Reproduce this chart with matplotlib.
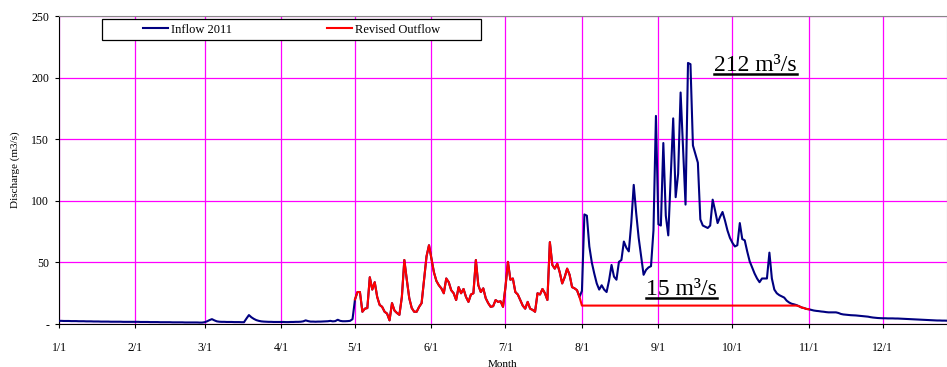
import numpy as np
import matplotlib
matplotlib.use("Agg")
import matplotlib.pyplot as plt
from matplotlib.patches import Rectangle

plt.rcParams['font.family'] = ['Liberation Serif', 'DejaVu Serif']

# daily inflow (m3/s), one list per month
jan = [2.6, 2.6, 2.5, 2.5, 2.5, 2.4, 2.4, 2.4, 2.3, 2.3, 2.3, 2.2, 2.2, 2.2, 2.1, 2.1,
       2.1, 2.0, 2.0, 2.0, 2.0, 1.9, 1.9, 1.9, 1.9, 1.9, 1.8, 1.8, 1.8, 1.8, 1.8]
feb = [1.8, 1.8, 1.7, 1.7, 1.7, 1.7, 1.6, 1.6, 1.6, 1.6, 1.5, 1.5, 1.5, 1.5, 1.5, 1.4,
       1.4, 1.4, 1.4, 1.4, 1.3, 1.3, 1.3, 1.3, 1.3, 1.3, 1.2, 1.2]
mar = [1.5, 2.2, 3.2, 4.0, 3.0, 2.2, 1.9, 1.8, 1.8, 1.7, 1.7, 1.7, 1.6, 1.6, 1.6, 1.5,
       1.5, 4.5, 7.3, 5.5, 4.2, 3.2, 2.6, 2.2, 2.0, 1.9, 1.8, 1.8, 1.7, 1.7, 1.7]
apr = [1.7, 1.7, 1.6, 1.6, 1.7, 1.7, 1.8, 1.8, 1.9, 2.2, 3.0, 2.4, 2.0, 2.0, 1.9, 2.0,
       2.0, 2.1, 2.2, 2.3, 2.6, 2.2, 2.4, 3.5, 2.6, 2.3, 2.3, 2.4, 2.6, 4.0]
may = [20, 26, 26, 10, 12.5, 13, 38, 28, 34, 22, 15.5, 14, 10, 8.5, 3, 17,
       11, 9, 7.5, 22, 52, 36, 21, 13, 10, 10, 14, 17, 36, 55, 64]
jun = [53, 42, 35, 31.5, 29, 25, 37, 34, 27.5, 25, 19.5, 30, 25, 28.5, 22, 18,
       24, 25, 52, 31.5, 26, 29, 21, 17, 14, 14.5, 19.5, 18, 18.5, 14]
jul = [30, 50.5, 36, 37, 26, 24, 19.5, 15, 12.5, 18, 12.5, 11.5, 10, 25, 24, 28.5,
       25, 19.5, 66.5, 48, 45, 49, 42, 33, 38, 45, 40, 30, 29, 27.5, 22]
aug = [27, 89, 88, 63, 50, 41, 33, 28, 31.5, 28, 26, 35.5, 48, 38.5, 36, 50.5,
       52, 67, 62, 59, 82, 113, 90, 70, 55, 40, 44, 46, 47, 76, 169]
sep = [81, 80, 147, 88, 72, 120, 167, 103, 122, 188, 142, 97, 212, 211, 145, 138,
       131, 85, 80, 79, 78, 80, 101, 92, 82, 87, 91, 84, 76, 70]
octo = [66, 63, 64, 82, 69, 68, 59, 51, 46, 41, 37, 34, 37, 37, 37, 58,
        37, 28, 25, 23.5, 22.5, 21.5, 19, 17.5, 16.5, 16, 15.4, 14.5, 13.5, 13, 12.3]
nov = [12, 11.5, 11, 10.7, 10.5, 10.2, 10, 9.7, 9.5, 9.5, 9.5, 9.5, 9, 8.2, 7.8, 7.6,
       7.4, 7.2, 7.1, 7.0, 6.8, 6.6, 6.4, 6.2, 6.0, 5.6, 5.3, 5.1, 4.9, 4.8]
dec = [4.7, 4.7, 4.6, 4.6, 4.6, 4.5, 4.5, 4.4, 4.3, 4.2, 4.1, 4.0, 3.9, 3.8, 3.7, 3.6,
       3.5, 3.4, 3.3, 3.2, 3.1, 3.0, 2.9, 2.9, 2.8, 2.8, 2.7, 2.7, 2.6, 2.6, 2.5]

inflow = np.array(jan + feb + mar + apr + may + jun + jul + aug + sep + octo + nov + dec)
days = np.arange(len(inflow))

# revised outflow: follows inflow from 5/1, capped at 15 m3/s from 8/1 to 11/1
outflow_start, cap_start, outflow_end = 120, 212, 304
release_cap = 15
out_days = np.arange(outflow_start, outflow_end + 1)
outflow = np.where(out_days >= cap_start,
                   np.minimum(inflow[out_days], release_cap),
                   inflow[out_days])

month_starts = [0, 31, 59, 90, 120, 151, 181, 212, 243, 273, 304, 334]
month_labels = ['1/1', '2/1', '3/1', '4/1', '5/1', '6/1', '7/1', '8/1', '9/1',
                '10/1', '11/1', '12/1']
y_ticks = [0, 50, 100, 150, 200, 250]
y_labels = ['-', '50', '100', '150', '200', '250']

fig = plt.figure(figsize=(9.47, 3.67), dpi=100)
ax = fig.add_axes([0.0623, 0.117, 0.9377, 0.839])

ax.plot(days, inflow, color='#000080', lw=1.5, label='Inflow 2011', zorder=3)
ax.plot(out_days, outflow, color='#FF0000', lw=1.5, label='Revised Outflow', zorder=4)

ax.set_xlim(0, 360)
ax.set_ylim(0, 250)
ax.set_xticks(month_starts)
ax.set_xticklabels(month_labels, fontsize=8.5)
ax.set_yticks(y_ticks)
ax.set_yticklabels(y_labels, fontsize=8.5)
ax.tick_params(direction='out', length=3, width=0.8, pad=10)
ax.tick_params(axis='y', pad=4)
ax.grid(True, color='#FF00FF', lw=0.9)
ax.set_axisbelow(True)
for s in ['top', 'right']:
    ax.spines[s].set_color('#888888')
    ax.spines[s].set_linewidth(0.8)

ax.set_xlabel('Month', fontsize=8)
ax.set_ylabel('Discharge (m3/s)', fontsize=8, labelpad=8)

# legend box drawn by hand, entries centred inside it
box = Rectangle((0.0484, 0.922), 0.4268, 0.068, transform=ax.transAxes,
                facecolor='white', edgecolor='black', lw=0.9, zorder=7)
ax.add_patch(box)
leg = ax.legend(loc='center', bbox_to_anchor=(0.0484 + 0.4268 / 2, 0.956),
                ncol=2, fontsize=9, frameon=False, handlelength=2.0,
                handletextpad=0.25, columnspacing=7.6, borderpad=0,
                borderaxespad=0)
leg.set_zorder(8)


def underlined(x, y, s):
    t = ax.text(x, y, s, fontsize=17, transform=ax.transData, ha='left',
                va='baseline', zorder=6)
    fig.canvas.draw()
    bb = t.get_window_extent().transformed(ax.transData.inverted())
    ax.plot([bb.x0, bb.x1], [y - 2.2, y - 2.2], color='black', lw=1.8,
            clip_on=False, zorder=6)


underlined(265.5, 205.5, '212 m\u00b3/s')
underlined(238, 23.5, '15 m\u00b3/s')

fig.savefig('out.png', dpi=100)
